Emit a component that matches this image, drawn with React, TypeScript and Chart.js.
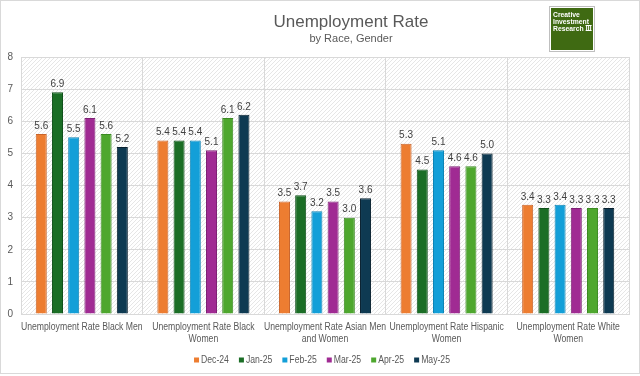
import React, { useEffect, useRef } from "react";
import { Chart, registerables } from "chart.js";

Chart.register(...registerables);

const categories: string[][] = [
  ["Unemployment Rate Black Men"],
  ["Unemployment Rate Black", "Women"],
  ["Unemployment Rate Asian Men", "and Women"],
  ["Unemployment Rate Hispanic", "Women"],
  ["Unemployment Rate White", "Women"],
];
const seriesNames = ["Dec-24", "Jan-25", "Feb-25", "Mar-25", "Apr-25", "May-25"];
const dec24 = [5.6, 5.4, 3.5, 5.3, 3.4];
const jan25 = [6.9, 5.4, 3.7, 4.5, 3.3];
const feb25 = [5.5, 5.4, 3.2, 5.1, 3.4];
const mar25 = [6.1, 5.1, 3.5, 4.6, 3.3];
const apr25 = [5.6, 6.1, 3.0, 4.6, 3.3];
const may25 = [5.2, 6.2, 3.6, 5.0, 3.3];
const seriesValues = [dec24, jan25, feb25, mar25, apr25, may25];
const fillColors = ["#ED7D31", "#1B6E26", "#139FD8", "#A02B93", "#4EA72E", "#0E3A52"];
const edgeColors = ["#C9642A", "#0F501A", "#0E84B5", "#7E2174", "#3B8A22", "#08202F"];
const titleText = "Unemployment Rate";
const subtitleText = "by Race, Gender";
const logoLines = ["Creative", "Investment", "Research"];

const FONT = "'Liberation Sans', Arial, sans-serif";
const SX = 0.865;

function makePattern(ctx: CanvasRenderingContext2D) {
  const c = document.createElement("canvas");
  c.width = 4;
  c.height = 4;
  const p = c.getContext("2d")!;
  p.fillStyle = "#ffffff";
  p.fillRect(0, 0, 4, 4);
  p.fillStyle = "#e6e6e6";
  for (let i = 0; i < 4; i++) p.fillRect(i, 3 - i, 1, 1);
  return ctx.createPattern(c, "repeat");
}

function narrowText(ctx: CanvasRenderingContext2D, text: string, x: number, y: number, sx: number) {
  ctx.save();
  ctx.translate(x, y);
  ctx.scale(sx, 1);
  ctx.fillText(text, 0, 0);
  ctx.restore();
}

const decorPlugin = {
  id: "decor",
  beforeDraw(chart: any) {
    const { ctx, chartArea, width, height } = chart;
    ctx.save();
    ctx.fillStyle = "#ffffff";
    ctx.fillRect(0, 0, width, height);
    const pat = makePattern(ctx);
    if (pat) {
      ctx.fillStyle = pat;
      ctx.fillRect(chartArea.left, chartArea.top, chartArea.right - chartArea.left, chartArea.bottom - chartArea.top);
    }
    ctx.restore();
  },
  afterDraw(chart: any) {
    const { ctx, width, chartArea } = chart;
    ctx.save();
    // outer border
    ctx.strokeStyle = "#d9d9d9";
    ctx.lineWidth = 1;
    ctx.strokeRect(0.5, 0.5, width - 1, 373);
    // title
    ctx.fillStyle = "#595959";
    ctx.textAlign = "center";
    ctx.textBaseline = "middle";
    ctx.font = `17px ${FONT}`;
    ctx.fillText(titleText, 351, 22);
    ctx.font = `11px ${FONT}`;
    ctx.fillText(subtitleText, 351, 39);
    // x category labels (condensed)
    const xs = chart.scales.x;
    ctx.font = `10px ${FONT}`;
    ctx.fillStyle = "#595959";
    categories.forEach((lines, i) => {
      const cx = xs.getPixelForValue(i);
      lines.forEach((t, k) => narrowText(ctx, t, cx, chartArea.bottom + 13 + k * 12, SX));
    });
    // legend (condensed)
    const boxW = 5;
    const gapBox = 2;
    const gapItem = 10;
    ctx.textAlign = "left";
    const widths = chart.data.datasets.map((ds: any) => ctx.measureText(ds.label).width * SX);
    const total =
      widths.reduce((a: number, w: number) => a + w + boxW + gapBox, 0) + gapItem * (widths.length - 1);
    let lx = 322 - total / 2;
    const ly = 360;
    chart.data.datasets.forEach((ds: any, i: number) => {
      ctx.fillStyle = ds.backgroundColor;
      ctx.fillRect(lx, ly - 2.5, boxW, boxW);
      ctx.fillStyle = "#595959";
      narrowText(ctx, ds.label, lx + boxW + gapBox, ly, SX);
      lx += boxW + gapBox + widths[i] + gapItem;
    });
    // logo
    ctx.fillStyle = "#bfbfbf";
    ctx.fillRect(549, 6, 46, 46);
    ctx.fillStyle = "#ffffff";
    ctx.fillRect(550, 7, 44, 44);
    ctx.fillStyle = "#3F6A12";
    ctx.fillRect(551, 8, 42, 42);
    ctx.fillStyle = "#ffffff";
    ctx.textBaseline = "alphabetic";
    ctx.font = `bold 8px ${FONT}`;
    logoLines.forEach((t, i) => narrowText(ctx, t, 553, 17 + i * 7, 0.85));
    const rw = ctx.measureText(logoLines[2]).width * 0.85;
    const ix = 553 + rw + 2;
    ctx.fillRect(ix, 25, 6, 1);
    ctx.fillRect(ix, 30, 6, 1);
    ctx.fillRect(ix + 0.5, 26, 1, 4);
    ctx.fillRect(ix + 2.5, 26, 1, 4);
    ctx.fillRect(ix + 4.5, 26, 1, 4);
    ctx.restore();
  },
  afterDatasetsDraw(chart: any) {
    const { ctx } = chart;
    ctx.save();
    ctx.fillStyle = "#404040";
    ctx.font = `10px ${FONT}`;
    ctx.textAlign = "center";
    ctx.textBaseline = "bottom";
    chart.data.datasets.forEach((ds: any, i: number) => {
      const meta = chart.getDatasetMeta(i);
      meta.data.forEach((el: any, j: number) => {
        ctx.fillText(Number(ds.data[j]).toFixed(1), el.x, el.y - 3);
      });
    });
    ctx.restore();
  },
};

export default function App() {
  const ref = useRef<HTMLCanvasElement>(null);
  useEffect(() => {
    document.body.style.margin = "0";
    const chart = new Chart(ref.current!, {
      type: "bar",
      data: {
        labels: categories.map((l) => l.join(" ")),
        datasets: seriesNames.map((n, i) => ({
          label: n,
          data: seriesValues[i],
          backgroundColor: fillColors[i],
          borderColor: edgeColors[i],
          borderWidth: 1,
          categoryPercentage: 0.8,
          barPercentage: 0.68,
        })),
      },
      options: {
        animation: false,
        responsive: false,
        maintainAspectRatio: false,
        layout: { padding: { top: 57, left: 0, right: 11, bottom: 0 } },
        plugins: {
          title: { display: false },
          tooltip: { enabled: false },
          legend: { display: false },
        },
        scales: {
          x: {
            grid: { display: true, offset: true, color: "#d9d9d9", drawTicks: false },
            border: { color: "#d9d9d9" },
            ticks: { display: false },
            afterFit: (s: any) => {
              s.height = 62;
            },
          },
          y: {
            min: 0,
            max: 8,
            ticks: {
              stepSize: 1,
              color: "#595959",
              font: { size: 10, family: FONT },
              padding: 8,
            },
            grid: { color: "#d9d9d9", drawTicks: false },
            border: { display: false },
            afterFit: (s: any) => {
              s.width = 21;
            },
          },
        },
      },
      plugins: [decorPlugin],
    } as any);
    return () => chart.destroy();
  }, []);
  return <canvas ref={ref} width={640} height={376} style={{ display: "block", width: 640, height: 376 }} />;
}
